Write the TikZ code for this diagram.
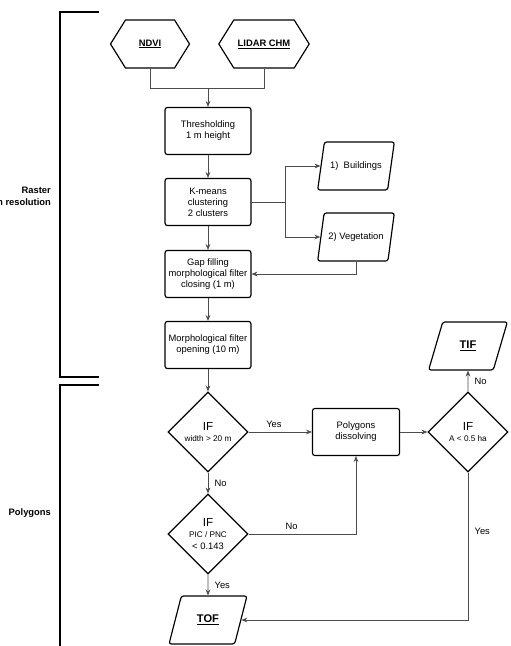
\documentclass[tikz,border=0pt]{standalone}
\usepackage{fontspec}
\setmainfont{Liberation Sans}
\usetikzlibrary{arrows.meta,shapes.geometric,shapes.symbols}
\begin{document}
\begin{tikzpicture}
[
    x=0.03cm, y=-0.03cm,
    font=\fontsize{8}{9.4}\selectfont,
    process/.style={rectangle, rounded corners=2pt, draw, line width=1pt, minimum width=2.58cm, minimum height=1.41cm, align=center, inner sep=1pt},
    source/.style={signal, signal to=west and east, signal pointer angle=116, draw, line width=1pt, minimum width=2.37cm, minimum height=1.44cm, font=\fontsize{8}{9.4}\selectfont\bfseries},
    result/.style={trapezium, trapezium left angle=69, trapezium right angle=111, trapezium stretches=true, rounded corners=2pt, draw, line width=1pt, minimum width=2.31cm, minimum height=1.44cm, align=center},
    decision/.style={diamond, aspect=1, draw, line width=1pt, minimum width=2.4cm, minimum height=2.4cm, inner sep=0pt, align=center},
    flow/.style={draw=black!70, line width=0.6pt},
    arrow/.style={flow, -{Stealth[length=5pt,width=4pt]}},
    bracket/.style={line width=1.1pt},
    group/.style={font=\fontsize{8}{10}\selectfont\bfseries, align=right, anchor=east},
]
    \useasboundingbox (0,0) rectangle (511,646);

    % groups
    \draw[bracket] (99,12) -| (60,377) -- (99,377);
    \draw[bracket] (99,385) -| (60,660);
    \node[group] (raster) at (55,196) {Raster\\1 m resolution};
    \node[group] (polygons) at (55,513) {Polygons};

    % raster part
    \node[source] (ndvi) at (150,44) {\underline{NDVI}};
    \node[source] (lidar) at (264,44) {\underline{LIDAR CHM}};
    \coordinate (join) at (208,88);
    \node[process] (thresh) at (208,131) {Thresholding\\1 m height};
    \node[process] (kmeans) at (208,202) {K-means\\clustering\\2 clusters};
    \coordinate (split) at (285,202);
    \node[result] (build) at (356,166) {1)~ Buildings};
    \node[result] (veg) at (356,237) {2) Vegetation};
    \node[process] (gap) at (208,274) {Gap filling\\morphological filter\\closing (1 m)};
    \node[process] (morph) at (208,345) {Morphological filter\\opening (10 m)};

    % polygon part
    \node[decision] (ifwidth) at (208,432) {\fontsize{10}{12}\selectfont IF\\\fontsize{7}{10}\selectfont width > 20 m};
    \node[process, minimum width=2.61cm] (dissolve) at (356,432) {Polygons\\dissolving};
    \node[decision] (ifarea) at (468,432) {\fontsize{10}{12}\selectfont IF\\\fontsize{7}{10}\selectfont A < 0.5 ha};
    \node[result, minimum width=2.37cm, font=\fontsize{9.5}{11}\selectfont\bfseries] (tif) at (468,346) {\underline{TIF}};
    \node[decision] (ifratio) at (208,534) {\fontsize{10}{12}\selectfont IF\\\fontsize{7}{11}\selectfont PIC / PNC\\< 0.143};
    \node[result, minimum width=2.34cm, font=\fontsize{9.5}{11}\selectfont\bfseries] (tof) at (208,620) {\underline{TOF}};

    \draw[flow] (ndvi.south) |- (join);
    \draw[flow] (lidar.south) |- (join);
    \draw[arrow] (join) -- (thresh);
    \draw[arrow] (thresh) -- (kmeans);
    \draw[flow] (kmeans.east) -- (split);
    \draw[arrow] (split) |- (build);
    \draw[arrow] (split) |- (veg);
    \draw[arrow] (veg.south) |- (gap.east);
    \draw[arrow] (kmeans) -- (gap);
    \draw[arrow] (gap) -- (morph);
    \draw[arrow] (morph) -- (ifwidth);

    \draw[arrow] (ifwidth) -- node[above, pos=0.4] {Yes} (dissolve);
    \draw[arrow] (ifwidth) -- node[right, xshift=2pt] {No} (ifratio);
    \draw[arrow] (ifratio.east) -| node[above, pos=0.2] {No} (dissolve.south);
    \draw[arrow] (ifratio) -- node[right, xshift=2pt] {Yes} (tof);
    \draw[arrow] (dissolve) -- (ifarea);
    \draw[arrow] (ifarea) -- node[right, xshift=2pt] {No} (tif);
    \draw[arrow] (ifarea.south) |- node[right, pos=0.2, xshift=2pt] {Yes} (tof.east);
\end{tikzpicture}
\end{document}
